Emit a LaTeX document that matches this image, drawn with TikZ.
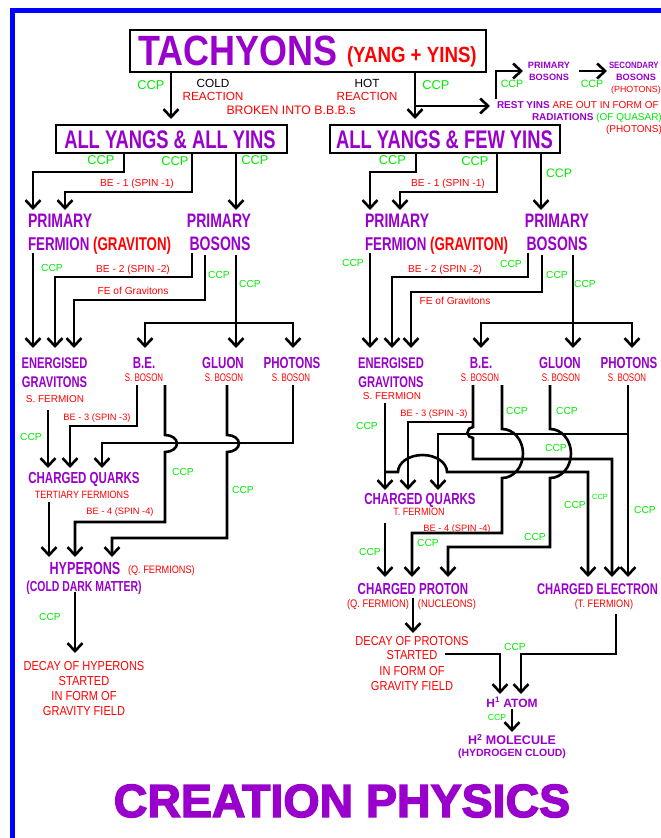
\documentclass[tikz,border=0pt]{standalone}
\usepackage{fontspec}
\setmainfont{Liberation Sans}
\newfontfamily\af{Liberation Sans}
\newfontfamily\mf[FakeStretch=0.85]{Liberation Sans}
\newfontfamily\cf[FakeStretch=0.72]{Liberation Sans}
\newfontfamily\bigf[BoldFeatures={FakeBold=3}]{Liberation Sans}
\usetikzlibrary{arrows.meta}
\definecolor{purp}{RGB}{153,0,204}
\definecolor{grn}{RGB}{0,235,0}
\definecolor{bord}{RGB}{0,0,255}
\newcommand\fs[1]{\fontsize{#1}{#1}\selectfont}
\tikzset{
  every node/.append style={inner sep=0pt, outer sep=0pt},
  pl/.style={text=purp, font=\cf\bfseries\fs{#1}}, pl/.default=16,
  pa/.style={text=purp, font=\af\bfseries\fs{#1}}, pa/.default=10,
  rl/.style={text=red, font=\af\fs{#1}}, rl/.default=10.2,
  rm/.style={text=red, font=\mf\fs{#1}}, rm/.default=10.6,
  rc/.style={text=red, font=\cf\fs{#1}}, rc/.default=11,
  gl/.style={text=grn, font=\af\fs{#1}}, gl/.default=10.2,
  bl/.style={text=black, font=\af\fs{#1}}, bl/.default=11.8,
  ln/.style={line width=2.6pt},
  ar/.style={line width=2.6pt, -{Straight Barb[length=8pt,width=15pt]}},
  bx/.style={draw, line width=1.6pt, anchor=north west},
}
\begin{document}
\begin{tikzpicture}[x=1pt, y=-1pt]
\useasboundingbox (0,0) rectangle (661,838);
% border
\draw[bord, line width=4.5pt] (12.5,845) -- (12.5,10.5) -- (670,10.5);

% ---------- title ----------
\node[bx, minimum width=356pt, minimum height=42pt] (tach) at (130,30) {};
\node[anchor=base west, text=purp, font=\mf\bfseries\fs{42.3}] (tachT) at (138,65) {TACHYONS};
\node[anchor=base west, text=red, font=\mf\bfseries\fs{22}] (yang) at (347,62) {(YANG + YINS)};

\node[gl=12.8, anchor=base] (ccpa) at (151,89.6) {CCP};
\node[bl, anchor=base] (cold) at (213,87.2) {COLD};
\node[rl=11.8, anchor=base] (reac1) at (213,100.2) {REACTION};
\node[rl=12.3, anchor=base] (broken) at (291,114.4) {BROKEN INTO B.B.B.s};
\node[bl, anchor=base] (hot) at (367,87.2) {HOT};
\node[rl=11.8, anchor=base] (reac2) at (367,100.2) {REACTION};
\node[gl=12.8, anchor=base] (ccpb) at (436,89.6) {CCP};

% top right
\node[pa=9.2, anchor=base] (pb0a) at (549,68.3) {PRIMARY};
\node[pa=9.2, anchor=base] (pb0b) at (549,80.3) {BOSONS};
\node[anchor=base west, text=purp, font=\mf\bfseries\fs{9.2}] (sb0a) at (609,68.3) {SECONDARY};
\node[pa=9.2, anchor=base] (sb0b) at (636,80.3) {BOSONS};
\node[rl=8.9, anchor=base] (sb0c) at (636,92.5) {(PHOTONS)};
\node[gl=10.6, anchor=base] (ccpc) at (512,87.8) {CCP};
\node[gl=10.6, anchor=base] (ccpd) at (592,87.8) {CCP};
\node[rl=10, anchor=base west] (rest) at (497,108.6) {\textcolor{purp}{\bfseries REST YINS} ARE OUT IN FORM OF};
\node[pa=10, anchor=base west] (radi) at (532,120.6) {RADIATIONS \textcolor{grn}{\mdseries (OF QUASAR)}};
\node[rl=10, anchor=base west] (radp) at (606,132.6) {(PHOTONS)};

\draw[ar] (171,72) -- (171,119);
\draw[ar] (415,72) -- (415,119);
\draw[ar] (415,106) -- (490,106);
\draw[ar] (496,99) -- (496,71) -- (523,71);
\draw[ar] (579,71) -- (607,71);

% ---------- boxes ----------
\node[bx, minimum width=231pt, minimum height=28pt] (ally) at (56,125) {};
\node[pl=25.5, anchor=base] (allyT) at (170,148.1) {ALL YANGS \& ALL YINS};
\node[bx, minimum width=230pt, minimum height=28pt] (fewy) at (330,125) {};
\node[pl=25.5, anchor=base] (fewyT) at (444.5,148.1) {ALL YANGS \& FEW YINS};

% ---------- left branch ----------
\node[gl=12.8, anchor=base] (ccpl1) at (101,164.5) {CCP};
\node[gl=12.8, anchor=base] (ccpl2) at (175,165.5) {CCP};
\node[gl=12.8, anchor=base] (ccpl3) at (255,164.5) {CCP};
\node[rl, anchor=base] (be1L) at (137,186.7) {BE - 1 (SPIN -1)};
\node[pl=19.5, anchor=base west] (pfLa) at (28,227) {PRIMARY};
\node[pl=18.5, anchor=base west] (pfLb) at (28,250) {FERMION \textcolor{red}{(GRAVITON)}};
\node[pl=19.5, anchor=base] (pbLa) at (219,227) {PRIMARY};
\node[pl=19.5, anchor=base] (pbLb) at (220,250) {BOSONS};

\draw[ar] (124,153) -- (124,172) -- (33,172) -- (33,210);
\draw[ar] (192,153) -- (192,192) -- (65,192) -- (65,210);
\draw[ar] (236,153) -- (236,210);

\node[gl, anchor=base] (ccpl4) at (52,271.7) {CCP};
\node[rl, anchor=base] (be2L) at (133,272.7) {BE - 2 (SPIN -2)};
\node[rl, anchor=base] (feL) at (133,294.7) {FE of Gravitons};
\node[gl, anchor=base] (ccpl5) at (219,278.7) {CCP};
\node[gl, anchor=base] (ccpl6) at (250,287.7) {CCP};

\draw[ar] (33,253) -- (33,348);
\draw[ar] (192,253) -- (192,277) -- (55,277) -- (55,348);
\draw[ar] (205,255) -- (205,300) -- (74,300) -- (74,348);
\draw[ar] (236,255) -- (236,348);
\draw[ln] (143.7,323) -- (294.3,323);
\draw[ar] (145,323) -- (145,348);
\draw[ar] (293,323) -- (293,348);

\node[pl=15.5, anchor=base] (egLa) at (54.5,368.5) {ENERGISED};
\node[pl=15.5, anchor=base] (egLb) at (54.5,387.5) {GRAVITONS};
\node[rl=10, anchor=base] (egLc) at (55,402.6) {S. FERMION};
\node[pl, anchor=base] (beL) at (144,368.7) {B.E.};
\node[rc, anchor=base] (beLs) at (144,381.8) {S. BOSON};
\node[pl, anchor=base] (glL) at (223,368.7) {GLUON};
\node[rc, anchor=base] (glLs) at (224,381.8) {S. BOSON};
\node[pl, anchor=base] (phL) at (292,368.7) {PHOTONS};
\node[rc, anchor=base] (phLs) at (291,381.8) {S. BOSON};

\node[rl=9.3, anchor=base] (be3L) at (97,420.3) {BE - 3 (SPIN -3)};
\node[gl, anchor=base] (ccpl7) at (31,440.7) {CCP};
\node[gl, anchor=base] (ccpl8) at (183,475.7) {CCP};
\node[gl, anchor=base] (ccpl9) at (243,493.7) {CCP};

\draw[ar] (137,385) -- (137,426) -- (70,426) -- (70,468);
\draw[ar] (48,410) -- (48,468);
\draw[ar] (293,385) -- (293,443) -- (102,443) -- (102,468);
\draw[ar] (165,385) -- (165,435) arc[start angle=-90, end angle=90, x radius=12, y radius=8.5] -- (165,522) -- (75,522) -- (75,557);
\draw[ar] (227,385) -- (227,435) arc[start angle=-90, end angle=90, x radius=12, y radius=8.5] -- (227,538) -- (112,538) -- (112,557);

\node[pl, anchor=base] (cqL) at (84,483.7) {CHARGED QUARKS};
\node[rm, anchor=base] (cqLs) at (82,498.8) {TERTIARY FERMIONS};
\node[rl=9.3, anchor=base] (be4L) at (120,514.8) {BE - 4 (SPIN -4)};
\draw[ar] (49,502) -- (49,557);

\node[pl=17.5, anchor=base] (hyp) at (85,574.3) {HYPERONS};
\node[rm=10.8, anchor=base west] (hypq) at (128,573.5) {(Q. FERMIONS)};
\node[pl=14.5, anchor=base] (hypc) at (84,591.2) {(COLD DARK MATTER)};
\node[gl, anchor=base] (ccpl10) at (50,620.7) {CCP};
\draw[ar] (75,592) -- (75,653);
\node[rm=13, anchor=base] (dh1) at (84,670.7) {DECAY OF HYPERONS};
\node[rm=13, anchor=base] (dh2) at (84,685.7) {STARTED};
\node[rm=13, anchor=base] (dh3) at (84,700.7) {IN FORM OF};
\node[rm=13, anchor=base] (dh4) at (84,715.7) {GRAVITY FIELD};

% ---------- right branch ----------
\node[gl=12.8, anchor=base] (ccpr1) at (392.5,164.5) {CCP};
\node[gl=12.8, anchor=base] (ccpr2) at (475,165.5) {CCP};
\node[gl=12.3, anchor=base] (ccpr3) at (559,177.3) {CCP};
\node[rl, anchor=base] (be1R) at (448,186.7) {BE - 1 (SPIN -1)};
\node[pl=19.5, anchor=base west] (pfRa) at (365,227) {PRIMARY};
\node[pl=18.5, anchor=base west] (pfRb) at (365,250) {FERMION \textcolor{red}{(GRAVITON)}};
\node[pl=19.5, anchor=base] (pbRa) at (557,227) {PRIMARY};
\node[pl=19.5, anchor=base] (pbRb) at (557,250) {BOSONS};

\draw[ar] (416,153) -- (416,172) -- (370,172) -- (370,210);
\draw[ar] (497,153) -- (497,192) -- (400,192) -- (400,210);
\draw[ar] (541,153) -- (541,210);

\node[gl, anchor=base] (ccpr4) at (353,266.7) {CCP};
\node[rl, anchor=base] (be2R) at (445,272.7) {BE - 2 (SPIN -2)};
\node[gl, anchor=base] (ccpr5) at (511,267.7) {CCP};
\node[gl, anchor=base] (ccpr6) at (557,278.7) {CCP};
\node[rl, anchor=base] (feR) at (455,304.7) {FE of Gravitons};
\node[gl, anchor=base] (ccpr7) at (585,287.7) {CCP};

\draw[ar] (370,253) -- (370,348);
\draw[ar] (528,253) -- (528,277) -- (392,277) -- (392,348);
\draw[ar] (542,255) -- (542,292) -- (411,292) -- (411,348);
\draw[ar] (573,255) -- (573,348);
\draw[ln] (479.7,323) -- (633.3,323);
\draw[ar] (481,323) -- (481,348);
\draw[ar] (632,323) -- (632,348);

\node[pl=15.5, anchor=base] (egRa) at (391,368.5) {ENERGISED};
\node[pl=15.5, anchor=base] (egRb) at (391,387.5) {GRAVITONS};
\node[rl=10, anchor=base] (egRc) at (392,399.6) {S. FERMION};
\node[pl, anchor=base] (beR) at (481,368.7) {B.E.};
\node[rc, anchor=base] (beRs) at (480,381.8) {S. BOSON};
\node[pl, anchor=base] (glR) at (560,368.7) {GLUON};
\node[rc, anchor=base] (glRs) at (561,381.8) {S. BOSON};
\node[pl, anchor=base] (phR) at (629,368.7) {PHOTONS};
\node[rc, anchor=base] (phRs) at (627,381.8) {S. BOSON};

\node[rl=9.3, anchor=base] (be3R) at (434,416.3) {BE - 3 (SPIN -3)};
\node[gl, anchor=base] (ccpr8) at (367,429.7) {CCP};
\node[gl, anchor=base] (ccpr9) at (517,414.7) {CCP};
\node[gl, anchor=base] (ccpr10) at (567,414.7) {CCP};
\node[gl, anchor=base] (ccpr11) at (556,451.7) {CCP};

% crossings
\draw[ar] (385,403) -- (385,490);
\draw[ar] (385,472) -- (398,472) arc[start angle=180, end angle=360, x radius=24.5, y radius=17] -- (588,472) -- (588,577);
\draw[ar] (473,422) -- (408,422) -- (408,490);
\draw[ar] (628,385) -- (628,577);
\draw[ar] (628,434) -- (438,434) -- (438,490);
\draw[ar] (473,385) -- (473,427) arc[start angle=-90, end angle=-270, radius=5.5] -- (473,459) -- (612,459) -- (612,577);
\draw[ar] (502,385) -- (502,429) arc[start angle=-90, end angle=90, x radius=21, y radius=24.5] -- (502,533) -- (412,533) -- (412,577);
\draw[ar] (550,385) -- (550,429) arc[start angle=-90, end angle=90, x radius=21, y radius=24.5] -- (550,547) -- (448,547) -- (448,577);

\node[pl, anchor=base] (cqR) at (420,504.7) {CHARGED QUARKS};
\node[rm, anchor=base] (cqRs) at (419,515.8) {T. FERMION};
\node[rl=9.3, anchor=base] (be4R) at (457,531.3) {BE - 4 (SPIN -4)};
\node[gl, anchor=base] (ccpr12) at (370,555.7) {CCP};
\node[gl, anchor=base] (ccpr13) at (428,546.7) {CCP};
\node[gl, anchor=base] (ccpr14) at (535,540.7) {CCP};
\node[gl, anchor=base] (ccpr15) at (575,508.7) {CCP};
\node[gl=7.5, anchor=base] (ccpr16) at (600,499.7) {CCP};
\node[gl, anchor=base] (ccpr17) at (645,513.7) {CCP};
\draw[ar] (385,523) -- (385,577);

\node[pl, anchor=base] (cp) at (413,594.7) {CHARGED PROTON};
\node[rm=11, anchor=base] (cpq) at (378,607) {(Q. FERMION)};
\node[rm=11, anchor=base] (cpn) at (447,607) {(NUCLEONS)};
\node[pl=15.5, anchor=base west] (ce) at (537,594.7) {CHARGED ELECTRON};
\node[rm=10.8, anchor=base] (cet) at (604,607) {(T. FERMION)};

\draw[ar] (413,598) -- (413,633);
\node[rm=13, anchor=base] (dp1) at (412,645.7) {DECAY OF PROTONS};
\node[rm=13, anchor=base] (dp2) at (412,659.7) {STARTED};
\node[rm=13, anchor=base] (dp3) at (412,675.7) {IN FORM OF};
\node[rm=13, anchor=base] (dp4) at (412,690.7) {GRAVITY FIELD};
\node[gl, anchor=base] (ccpr18) at (515,650.7) {CCP};
\draw[ar] (445,654) -- (500,654) -- (500,694);
\draw[ar] (616,614) -- (616,654) -- (521,654) -- (521,694);

\node[pa=12, anchor=base] (h1) at (512,707.3) {H\textsuperscript{1} ATOM};
\node[gl=8.7, anchor=base] (ccpr19) at (497,720.1) {CCP};
\draw[ar] (512,709) -- (512,732);
\node[pa=12.5, anchor=base] (h2) at (512,744.5) {H\textsuperscript{2} MOLECULE};
\node[pa=10.5, anchor=base] (h2c) at (512,756.8) {(HYDROGEN CLOUD)};

% ---------- footer ----------
\node[anchor=base, text=purp, font=\bigf\bfseries\fs{46.5}] (crea) at (342,817) {CREATION PHYSICS};
\end{tikzpicture}
\end{document}
